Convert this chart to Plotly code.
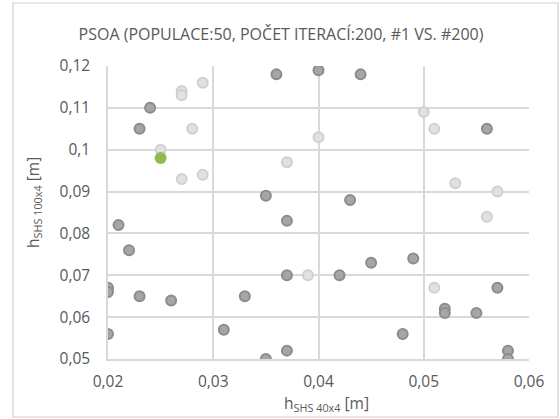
import plotly.graph_objects as go

# Series #1 (dark gray)
dark_x = [0.024, 0.023, 0.036, 0.040, 0.044, 0.056, 0.035, 0.043, 0.037, 0.021,
          0.022, 0.020, 0.020, 0.023, 0.026, 0.033, 0.037, 0.042, 0.045, 0.049,
          0.057, 0.052, 0.052, 0.055, 0.048, 0.058, 0.058, 0.020, 0.031, 0.035, 0.037]
dark_y = [0.110, 0.105, 0.118, 0.119, 0.118, 0.105, 0.089, 0.088, 0.083, 0.082,
          0.076, 0.067, 0.066, 0.065, 0.064, 0.065, 0.070, 0.070, 0.073, 0.074,
          0.067, 0.062, 0.061, 0.061, 0.056, 0.052, 0.050, 0.056, 0.057, 0.050, 0.052]

# Series #200 (light gray)
light_x = [0.027, 0.027, 0.029, 0.028, 0.025, 0.027, 0.029, 0.037, 0.040, 0.050,
           0.051, 0.053, 0.057, 0.056, 0.051, 0.039]
light_y = [0.114, 0.113, 0.116, 0.105, 0.100, 0.093, 0.094, 0.097, 0.103, 0.109,
           0.105, 0.092, 0.090, 0.084, 0.067, 0.070]

# Best solution (green)
best_x = [0.025]
best_y = [0.098]

x_ticks = [0.02, 0.03, 0.04, 0.05, 0.06]
x_labels = ["0,02", "0,03", "0,04", "0,05", "0,06"]
y_ticks = [0.05, 0.06, 0.07, 0.08, 0.09, 0.10, 0.11, 0.12]
y_labels = ["0,05", "0,06", "0,07", "0,08", "0,09", "0,1", "0,11", "0,12"]

title_text = "PSOA (POPULACE:50, POČET ITERACÍ:200, #1 VS. #200)"
x_title = "h<sub>SHS 40x4</sub> [m]"
y_title = "h<sub>SHS 100x4</sub> [m]"
font_family = "Open Sans"
text_color = "#595959"
grid_color = "#d9d9d9"

fig = go.Figure()
fig.add_trace(go.Scatter(
    x=dark_x, y=dark_y, mode="markers", name="#1",
    marker=dict(size=10, color="#a6a6a6", line=dict(color="#8c8c8c", width=2)),
))
fig.add_trace(go.Scatter(
    x=light_x, y=light_y, mode="markers", name="#200",
    marker=dict(size=10, color="#e1e1e1", line=dict(color="#d0d0d0", width=2)),
))
fig.add_trace(go.Scatter(
    x=best_x, y=best_y, mode="markers", name="best",
    marker=dict(size=12, color="#8fbc50", line=dict(width=0)),
))

L, R, T, B = 108, 31, 66, 60
W, H = 560, 419
pw, ph = W - L - R, H - T - B

def px(x):
    return (x - L) / pw

def py(y):
    return (H - B - y) / ph

fig.add_shape(type="rect", xref="paper", yref="paper",
              x0=px(13), x1=px(558), y0=py(417), y1=py(3),
              line=dict(color="#d0d0d0", width=1.2), layer="above")

fig.add_annotation(text=x_title, xref="paper", yref="paper",
                   x=px(326), y=py(403), xanchor="center", yanchor="middle",
                   showarrow=False, font=dict(size=15.5, color=text_color))
fig.add_annotation(text=y_title, xref="paper", yref="paper",
                   x=px(33), y=py(203), xanchor="center", yanchor="middle",
                   textangle=-90, showarrow=False,
                   font=dict(size=15.5, color=text_color))

fig.update_layout(
    width=W, height=H,
    margin=dict(l=L, r=R, t=T, b=B),
    paper_bgcolor="white", plot_bgcolor="white",
    showlegend=False,
    font=dict(family=font_family, color=text_color, size=14),
    title=dict(text=title_text, x=(281 - L) / pw, xref="paper",
               y=1 - 34 / H, yref="container",
               xanchor="center", yanchor="middle",
               font=dict(size=16, color=text_color, family=font_family)),
    xaxis=dict(range=[0.02, 0.06], tickvals=x_ticks, ticktext=x_labels,
               showgrid=True, gridcolor=grid_color, gridwidth=1.5,
               zeroline=False, showline=True, linecolor=grid_color, linewidth=1.5,
               ticks="", ticklabelstandoff=8, automargin=False,
               tickfont=dict(size=15.5, color=text_color)),
    yaxis=dict(range=[0.05, 0.12], tickvals=y_ticks, ticktext=y_labels,
               showgrid=True, gridcolor=grid_color, gridwidth=1.5,
               zeroline=False, showline=True, linecolor=grid_color, linewidth=1.5,
               ticks="", ticklabelstandoff=13, automargin=False,
               tickfont=dict(size=15.5, color=text_color)),
)

fig.write_html("out.html", config={"displayModeBar": False},
               post_script="document.body.style.margin='0';")
